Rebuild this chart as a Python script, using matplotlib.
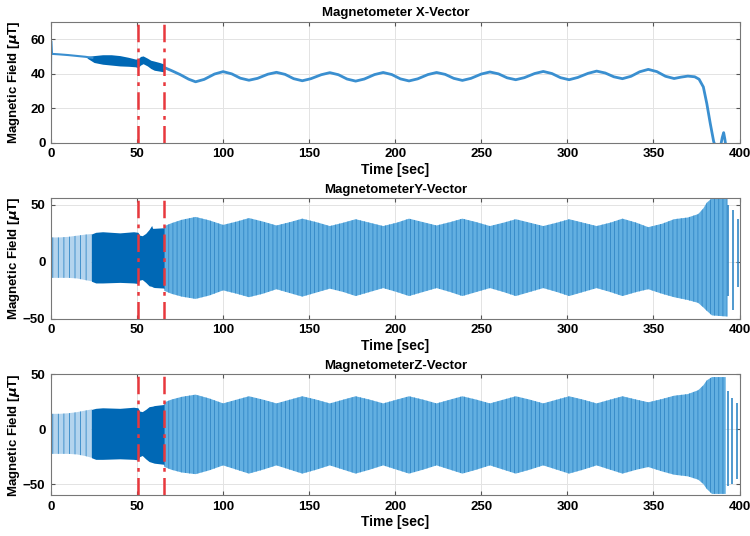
import numpy as np
import matplotlib
matplotlib.use("Agg")
import matplotlib.pyplot as plt

plt.rcParams['font.family'] = ['Liberation Sans', 'DejaVu Sans']
plt.rcParams['font.weight'] = 'bold'
plt.rcParams['hatch.linewidth'] = 0.6

# ---- X vector ----
# thin line parts
x_t = [0, 0.1, 0.5, 5, 10, 15, 20, 24]
x_v = [40, 59, 51.5, 51.2, 50.8, 50.3, 49.8, 49.2]
# noisy band between ~22 s and 66 s
xb_t = [21, 25, 30, 35, 40, 45, 49, 50.5, 52, 53.5, 56, 58, 60, 63, 66]
xb_hi = [50, 50.5, 51, 51, 50.5, 49.5, 48.5, 48.5, 50, 50.3, 49, 47.8, 47.3, 46.5, 45.5]
xb_lo = [49, 46.5, 45.5, 45, 44.5, 44.3, 44, 43.5, 45, 45.8, 44.5, 43, 42, 41.5, 41]
# slow wave after the manoeuvre
xw_t = [66, 70, 75, 80, 84, 89, 95, 100, 105, 110, 115, 120, 126, 131, 136, 141, 146,
        151, 157, 162, 167, 172, 177, 182, 188, 193, 198, 203, 208, 213, 219, 224,
        229, 234, 239, 244, 250, 255, 260, 265, 270, 275, 281, 286, 291, 296, 301,
        306, 312, 317, 322, 327, 332, 337, 342, 347, 352, 357, 362, 366, 370, 374,
        376.5, 379, 381, 383, 385, 387, 389, 390, 390.8, 391.5, 392.5]
xw_v = [43.5, 41.8, 39.5, 36.8, 35.3, 36.7, 39.8, 41.2, 39.9, 37.4, 36.2, 37.3, 39.7,
        40.8, 39.6, 37.1, 35.9, 37.1, 39.4, 40.6, 39.4, 36.9, 35.7, 36.9, 39.5, 40.7,
        39.5, 37.0, 35.8, 37.0, 39.5, 40.7, 39.6, 37.3, 36.1, 37.3, 39.8, 41.0, 39.9,
        37.6, 36.5, 37.7, 40.1, 41.3, 40.1, 37.7, 36.5, 37.8, 40.2, 41.5, 40.4, 38.2,
        37.1, 38.5, 41.1, 42.5, 41.2, 38.5, 37.2, 38, 38.6, 38.2, 36.8, 32.3, 22.7,
        11.2, 0.6, -5, -2, 3, 5.8, 2, -5]

# ---- Y vector envelopes ----
ye_t = [0.5, 5, 10, 15, 20, 23.5]
ye_hi = [21.5, 21.5, 22, 23, 24, 24.5]
ye_lo = [-14, -14, -14, -14.5, -16, -17]
yd_t = [23.5, 26, 30, 40, 48, 50.5, 51.5, 53, 55, 57, 58.5, 59, 60, 65.5, 66]
yd_hi = [24.5, 26, 26.5, 25.5, 26.5, 26, 23.5, 23, 25, 28.5, 32, 29.5, 29.5, 30, 30.5]
yd_lo = [-17, -18.5, -18.5, -18, -18.5, -19, -16, -15.5, -18, -21, -21.5, -22, -22.5, -23, -24]
yw_t = [66, 70, 76, 84, 92, 100, 108, 115, 123, 131, 139, 146, 154, 162, 170, 177,
        185, 193, 201, 208, 216, 224, 232, 239, 247, 255, 263, 270, 278, 286, 294,
        301, 309, 317, 325, 332, 340, 347, 355, 362, 370, 376, 379, 381, 384, 393]
yw_hi = [31.5, 34, 37, 39.5, 36.5, 32.5, 35.5, 38.5, 35.5, 32, 35, 38, 35, 31.5,
         34.5, 37.5, 34.5, 31.5, 34.5, 38, 35, 32, 35, 38, 35, 31.5, 34.5, 37.5,
         34.5, 31.5, 34.5, 37.5, 34.5, 31.5, 34.5, 38, 34.5, 30.5, 33.5, 37.5, 39,
         42, 47, 52, 56, 56]
yw_lo = [-25.5, -28, -30.5, -32.5, -29.5, -25, -28, -31, -28, -24, -27.5, -30.5,
         -27, -23.5, -26.5, -30, -26.5, -23, -26.5, -30, -26.5, -23, -26.5, -30,
         -26.5, -23, -26.5, -30, -26.5, -23, -26.5, -30, -26.5, -23, -26.5, -30,
         -26.5, -24, -28, -31, -33.5, -36, -40, -43, -47, -48]
ys_t = [0.2, 393.5, 396.5, 399.2]
ys_hi = [28, 50, 46, 38]
ys_lo = [-37, -30, -42, -22]

# ---- Z vector envelopes ----
ze_t = [0.5, 5, 10, 15, 20, 23.5]
ze_hi = [14, 14, 14.5, 15.5, 17, 18]
ze_lo = [-22.5, -22.5, -22.5, -23, -24.5, -26]
zd_t = [23.5, 26, 30, 40, 48, 50.5, 51.5, 53, 55, 57, 59, 60, 65.5, 66]
zd_hi = [18, 19, 19.5, 19, 20, 19.5, 16.5, 16, 18, 20.5, 21, 21.5, 22.5, 24]
zd_lo = [-26, -27.5, -27.5, -27, -27.5, -28, -25, -24, -27, -29.5, -30.5, -31, -32, -34]
zw_t = yw_t[:-1] + [392]
zw_hi = [24.5, 27, 29.5, 31.5, 28, 23.5, 27, 30, 27, 23.5, 27, 30, 27, 23.5, 27, 30,
         27, 23.5, 27, 30, 27, 23.5, 27, 30, 27, 23.5, 27, 30, 27, 23.5, 27, 30, 27,
         23.5, 27, 30, 27, 24.5, 27.5, 30.5, 32, 35.5, 40, 44.5, 47.5, 47.5]
zw_lo = [-34.5, -37, -39.5, -41, -37.5, -33, -37, -40.5, -37, -33, -37, -40.5, -37,
         -33, -37, -40.5, -37, -33, -37, -40.5, -37, -33, -37, -40.5, -37, -33, -37,
         -40.5, -37, -33, -37, -40.5, -37, -33, -37, -40.5, -37, -34.5, -38.5, -41.5,
         -43, -46, -50, -54.5, -59, -59]
zs_t = [0.2, 393.5, 395.8, 398.3]
zs_hi = [18.5, 35, 28, 24]
zs_lo = [-20, -52, -50, -45]

event_t = [50.6, 65.4]

dark = '#0068b5'
light = '#62afe1'
stripe = '#3187c6'

fig, axes = plt.subplots(3, 1, figsize=(7.5, 5.36), dpi=100)
fig.subplots_adjust(left=0.068, right=0.986, top=0.959, bottom=0.0765, hspace=0.46)

ax = axes[0]
ax.fill_between(xb_t, xb_lo, xb_hi, color=dark, lw=0)
ax.plot(x_t, x_v, color='#3a8fd0', lw=1.5)
ax.plot(xw_t, xw_v, color='#3a8fd0', lw=2.0)
ax.set_ylim(0, 70)
ax.set_yticks([0, 20, 40, 60])
ax.set_title('Magnetometer X-Vector', fontsize=9.5, fontweight='bold', pad=4)

panels = [
    (axes[1], ye_t, ye_hi, ye_lo, yd_t, yd_hi, yd_lo, yw_t, yw_hi, yw_lo, ys_t, ys_hi, ys_lo),
    (axes[2], ze_t, ze_hi, ze_lo, zd_t, zd_hi, zd_lo, zw_t, zw_hi, zw_lo, zs_t, zs_hi, zs_lo),
]
for ax, et, eh, el, dt, dh, dl, wt, wh, wl, st, sh, sl in panels:
    ax.fill_between(et, el, eh, facecolor='#b3d4ee', edgecolor=stripe, hatch='|||', lw=0)
    ax.fill_between(dt, dl, dh, color=dark, lw=0)
    ax.fill_between(wt, wl, wh, facecolor=light, edgecolor=stripe, hatch='||||', lw=0)
    ax.vlines(st, sl, sh, color=stripe, lw=1.2)

axes[1].set_ylim(-50, 56)
axes[1].set_yticks([-50, 0, 50])
axes[1].set_title('MagnetometerY-Vector', fontsize=9.5, fontweight='bold', pad=4)
axes[2].set_ylim(-60, 50)
axes[2].set_yticks([-50, 0, 50])
axes[2].set_title('MagnetometerZ-Vector', fontsize=9.5, fontweight='bold', pad=4)

for ax in axes:
    for t in event_t:
        ax.axvline(t, color='#e8383d', lw=1.8, linestyle=(0, (7, 2.5, 1.5, 2.5)))
    ax.set_xlim(0, 400)
    ax.set_xticks(np.arange(0, 401, 50))
    ax.grid(True, color='#e3e3e3', lw=0.7)
    ax.set_axisbelow(True)
    ax.tick_params(direction='in', length=3, top=True, right=True, labelsize=9.5,
                   color='#555555', pad=4)
    for s in ax.spines.values():
        s.set_color('#777777')
        s.set_linewidth(0.8)
    ax.set_xlabel('Time [sec]', fontsize=10, fontweight='bold', labelpad=2)
    ax.set_ylabel(r'Magnetic Field [$\mu$T]', fontsize=9.5, fontweight='bold')
    ax.yaxis.set_label_coords(-0.042, 0.5)

plt.savefig('out.png', dpi=100)
